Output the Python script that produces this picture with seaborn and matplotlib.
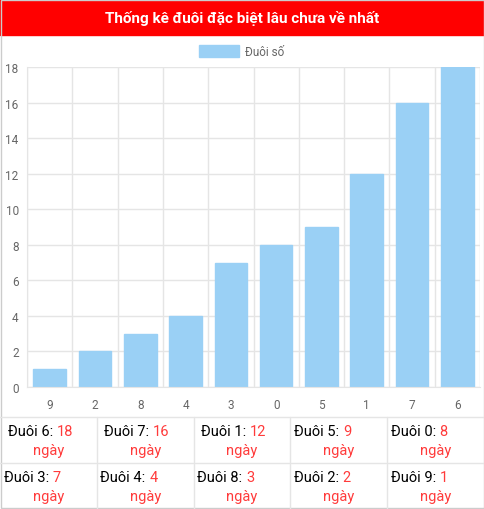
import matplotlib
matplotlib.use("Agg")
import matplotlib.pyplot as plt
import seaborn as sns
import pandas as pd
from matplotlib.patches import Rectangle

categories = ["9", "2", "8", "4", "3", "0", "5", "1", "7", "6"]
values = [1, 2, 3, 4, 7, 8, 9, 12, 16, 18]
table_digits = ["6", "7", "1", "5", "0", "3", "4", "8", "2", "9"]
table_values = [18, 16, 12, 9, 8, 7, 4, 3, 2, 1]

sns.set_style("white")
plt.rcParams['font.family'] = ['Roboto', 'DejaVu Sans']

W, H = 484, 510
fig = plt.figure(figsize=(W/100, H/100), dpi=100)

def fx(x): return x / W
def fy(y): return 1 - y / H

# title bar
fig.patches.append(Rectangle((0, fy(36)), 1, 36/H, transform=fig.transFigure, color="#ff0000", zorder=0))
fig.text(0.5, fy(18), "Thống kê đuôi đặc biệt lâu chưa về nhất", color="white",
         fontsize=11, fontweight="bold", ha="center", va="center")
# outer border
fig.patches.append(Rectangle((fx(0.5), 0.001), 1 - 1/W, 1 - 0.002, transform=fig.transFigure,
                             fill=False, edgecolor="#cccccc", lw=1))

ax = fig.add_axes([fx(27), fy(388), fx(453), 320/H])
df = pd.DataFrame({"cat": categories, "val": values})
sns.barplot(data=df, x="cat", y="val", ax=ax, color="#9ad0f5", saturation=1,
            width=0.72, edgecolor="#9ad0f5", order=categories)
ax.set_ylim(0, 18)
ax.set_xlim(-0.5, 9.5)
ax.set_yticks(range(0, 19, 2))
ax.set_xticks([i - 0.5 for i in range(11)], minor=True)
ax.grid(True, which="minor", axis="x", color="#e5e5e5", lw=1)
ax.grid(True, which="major", axis="y", color="#e5e5e5", lw=1)
ax.set_axisbelow(True)
ax.tick_params(axis="x", which="major", length=0, labelsize=8.5, labelcolor="#666666", pad=8)
ax.tick_params(axis="x", which="minor", length=6, color="#e5e5e5")
ax.tick_params(axis="y", length=0, labelsize=8.5, labelcolor="#666666", pad=6)
ax.set_xlabel(""); ax.set_ylabel("")
for s in ["top", "right"]:
    ax.spines[s].set_visible(False)
for s in ["left", "bottom"]:
    ax.spines[s].set_color("#e5e5e5")

# legend
fig.patches.append(Rectangle((fx(199), fy(58)), 40/W, 12/H, transform=fig.transFigure,
                             facecolor="#9ad0f5", edgecolor="#9ad0f5"))
fig.text(fx(245), fy(52), "Đuôi số", fontsize=8.5, color="#666666", va="center")

# table
red = "#ff3b3b"
colw = W / 5
for i, (d, v) in enumerate(zip(table_digits, table_values)):
    r, c = divmod(i, 5)
    top = 418 + r * 46
    cx = colw * c + colw / 2
    off = 8 if v >= 10 else 4
    fig.text(fx(cx + off), fy(top + 14), f"Đuôi {d}: ", fontsize=10.5, color="black",
             ha="right", va="center")
    fig.text(fx(cx + off), fy(top + 14), str(v), fontsize=10.5, color=red,
             ha="left", va="center")
    fig.text(fx(cx), fy(top + 33), "ngày", fontsize=10.5, color=red, ha="center", va="center")
# table lines
for y in [418, 464]:
    fig.add_artist(plt.Line2D([0, 1], [fy(y), fy(y)], transform=fig.transFigure, color="#e5e5e5", lw=1))
for c in range(1, 5):
    fig.add_artist(plt.Line2D([fx(colw*c)]*2, [fy(418), 0], transform=fig.transFigure, color="#e5e5e5", lw=1))

fig.savefig("out.png", dpi=100)
